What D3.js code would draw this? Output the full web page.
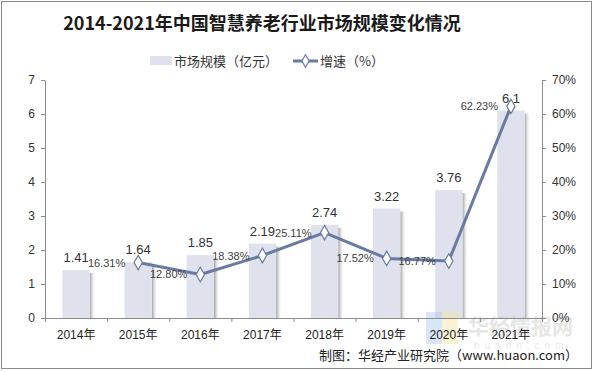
<!DOCTYPE html>
<html>
<head>
<meta charset="utf-8">
<script src="https://cdn.jsdelivr.net/npm/d3@7"></script>
<style>
  body { margin: 0; background: #fff; }
  text { font-family: "Liberation Sans", Arial, "Noto Sans CJK SC", sans-serif; }
</style>
</head>
<body>
<div id="chart"></div>
<script>
var width = 593,
  height = 372;

// data
var years = ["2014年", "2015年", "2016年", "2017年", "2018年", "2019年", "2020年", "2021年"];
var scale = [1.41, 1.64, 1.85, 2.19, 2.74, 3.22, 3.76, 6.1];
var growthYears = ["2015年", "2016年", "2017年", "2018年", "2019年", "2020年", "2021年"];
var growth = [16.31, 12.80, 18.38, 25.11, 17.52, 16.77, 62.23];
var leftTicks = [0, 1, 2, 3, 4, 5, 6, 7];
var rightTicks = [0, 10, 20, 30, 40, 50, 60, 70];

var plotL = 45, plotR = 542, plotT = 80, plotB = 318;
var barColor = "#dfe2ec", lineColor = "#687ba0", axisColor = "#8c8c8c";

var svg = d3.select("#chart").append("svg")
  .attr("width", width)
  .attr("height", height);

var defs = svg.append("defs");
var grad = defs.append("linearGradient").attr("id", "shade");
grad.append("stop").attr("offset", "0%").attr("stop-color", "#8a8a8a").attr("stop-opacity", 0.8);
grad.append("stop").attr("offset", "100%").attr("stop-color", "#cfcfcf").attr("stop-opacity", 0);

// outer frame
svg.append("rect")
  .attr("x", 1.5).attr("y", 1.5)
  .attr("width", width - 3).attr("height", height - 5)
  .attr("fill", "none").attr("stroke", "#8a8a8a").attr("stroke-width", 1);

// title
svg.append("text")
  .attr("x", 262).attr("y", 30)
  .attr("text-anchor", "middle")
  .attr("font-size", 18).attr("font-weight", "bold")
  .attr("fill", "#1a1a1a")
  .style("font-family", "'Noto Sans CJK SC', sans-serif")
  .text("2014-2021年中国智慧养老行业市场规模变化情况");

// legend
var lg = svg.append("g").attr("class", "legend");
lg.append("rect").attr("x", 150).attr("y", 56).attr("width", 22).attr("height", 9).attr("fill", barColor);
lg.append("text").attr("x", 174).attr("y", 66).attr("font-size", 13).attr("fill", "#333")
  .style("font-family", "'Noto Sans CJK SC', sans-serif").text("市场规模（亿元）");
lg.append("line").attr("x1", 293).attr("x2", 318).attr("y1", 61).attr("y2", 61)
  .attr("stroke", lineColor).attr("stroke-width", 3);
lg.append("path").attr("d", d3.symbol(d3.symbolDiamond, 45)())
  .attr("transform", "translate(305.5,61)")
  .attr("fill", "#fff").attr("stroke", lineColor).attr("stroke-width", 1.2);
lg.append("text").attr("x", 320).attr("y", 66).attr("font-size", 13).attr("fill", "#333")
  .style("font-family", "'Noto Sans CJK SC', sans-serif").text("增速（%）");

// scales
var x = d3.scaleBand()
  .domain(years)
  .range([plotL, plotR])
  .paddingInner(0.56)
  .paddingOuter(0.28);
var xEdge = d3.scaleLinear().domain([0, years.length]).range([plotL, plotR]);
var y = d3.scaleLinear().domain([0, 7]).range([plotB, plotT]);
var y2 = d3.scaleLinear().domain([0, 70]).range([plotB, plotT]);
var xc = function(d) { return x(d) + x.bandwidth() / 2; };

// bars with a soft shadow on the right
var bars = svg.append("g");
bars.selectAll(".shadow")
  .data(years)
  .enter().append("rect")
    .attr("class", "shadow")
    .attr("x", function(d) { return x(d) + x.bandwidth(); })
    .attr("y", function(d, i) { return y(scale[i]) + 3; })
    .attr("width", 5)
    .attr("height", function(d, i) { return plotB - y(scale[i]) - 3; })
    .attr("fill", "url(#shade)");
bars.selectAll(".bar")
  .data(years)
  .enter().append("rect")
    .attr("class", "bar")
    .attr("x", function(d) { return x(d); })
    .attr("y", function(d, i) { return y(scale[i]); })
    .attr("width", x.bandwidth())
    .attr("height", function(d, i) { return plotB - y(scale[i]); })
    .attr("fill", barColor);

// watermark
var wm = svg.append("g").attr("opacity", 0.45);
wm.append("rect").attr("x", 426).attr("y", 312).attr("width", 16).attr("height", 32).attr("fill", "#a9c8f0");
wm.append("rect").attr("x", 442).attr("y", 312).attr("width", 16).attr("height", 32).attr("fill", "#f5e6a0");
wm.append("text").attr("x", 468).attr("y", 334).attr("font-size", 21).attr("font-weight", "bold")
  .attr("fill", "#c8c8c8").style("font-family", "'Noto Sans CJK SC', sans-serif").text("华经情报网");
wm.append("text").attr("x", 474).attr("y", 349).attr("font-size", 10).attr("letter-spacing", 5)
  .attr("fill", "#d0d0d0").text("huaon.com");

// axes
var axisL = svg.append("g")
  .attr("transform", "translate(" + plotL + ",0)")
  .call(d3.axisLeft(y).tickValues(leftTicks).tickSize(4).tickSizeOuter(0).tickPadding(6)
    .tickFormat(d3.format("d")));
var axisR = svg.append("g")
  .attr("transform", "translate(" + plotR + ",0)")
  .call(d3.axisRight(y2).tickValues(rightTicks).tickSize(4).tickSizeOuter(0).tickPadding(6)
    .tickFormat(function(d) { return d + "%"; }));
var axisB = svg.append("g")
  .attr("transform", "translate(0," + plotB + ")")
  .call(d3.axisBottom(xEdge).tickValues(d3.range(0, years.length + 1)).tickSize(4).tickSizeOuter(0)
    .tickFormat(""));
svg.append("g")
  .attr("transform", "translate(0," + plotB + ")")
  .call(d3.axisBottom(x).tickSize(0).tickPadding(12))
  .call(function(g) { g.select(".domain").remove(); })
  .selectAll("text").attr("font-size", 12).attr("fill", "#222")
  .style("font-family", "'Liberation Sans', 'Noto Sans CJK SC', sans-serif");

[axisL, axisR, axisB].forEach(function(g) {
  g.selectAll(".domain, line").attr("stroke", axisColor);
  g.selectAll("text").attr("font-size", 12).attr("fill", "#333");
});

// bar value labels
svg.append("g").selectAll("text")
  .data(years)
  .enter().append("text")
    .attr("x", xc)
    .attr("y", function(d, i) { return y(scale[i]) - 8; })
    .attr("text-anchor", "middle")
    .attr("font-size", 13)
    .attr("fill", "#333")
    .text(function(d, i) { return scale[i]; });

// growth line
var line = d3.line()
  .x(function(d, i) { return xc(growthYears[i]); })
  .y(function(d) { return y2(d); });
svg.append("path")
  .datum(growth)
  .attr("d", line)
  .attr("fill", "none")
  .attr("stroke", lineColor)
  .attr("stroke-width", 3)
  .attr("stroke-linejoin", "round");
svg.append("g").selectAll("path")
  .data(growth)
  .enter().append("path")
    .attr("d", d3.symbol(d3.symbolDiamond, 60)())
    .attr("transform", function(d, i) { return "translate(" + xc(growthYears[i]) + "," + y2(d) + ")"; })
    .attr("fill", "#fff")
    .attr("stroke", lineColor)
    .attr("stroke-width", 1.2);
svg.append("g").selectAll("text")
  .data(growth)
  .enter().append("text")
    .attr("x", function(d, i) { return xc(growthYears[i]) - 13; })
    .attr("y", function(d) { return y2(d) + 4; })
    .attr("text-anchor", "end")
    .attr("font-size", 11)
    .attr("fill", "#404040")
    .text(function(d) { return d.toFixed(2) + "%"; });

// source
svg.append("text")
  .attr("x", 578).attr("y", 360)
  .attr("text-anchor", "end")
  .attr("font-size", 13)
  .attr("fill", "#222")
  .style("font-family", "'Noto Sans CJK SC', sans-serif")
  .text("制图：华经产业研究院（www.huaon.com）");
</script>
</body>
</html>
